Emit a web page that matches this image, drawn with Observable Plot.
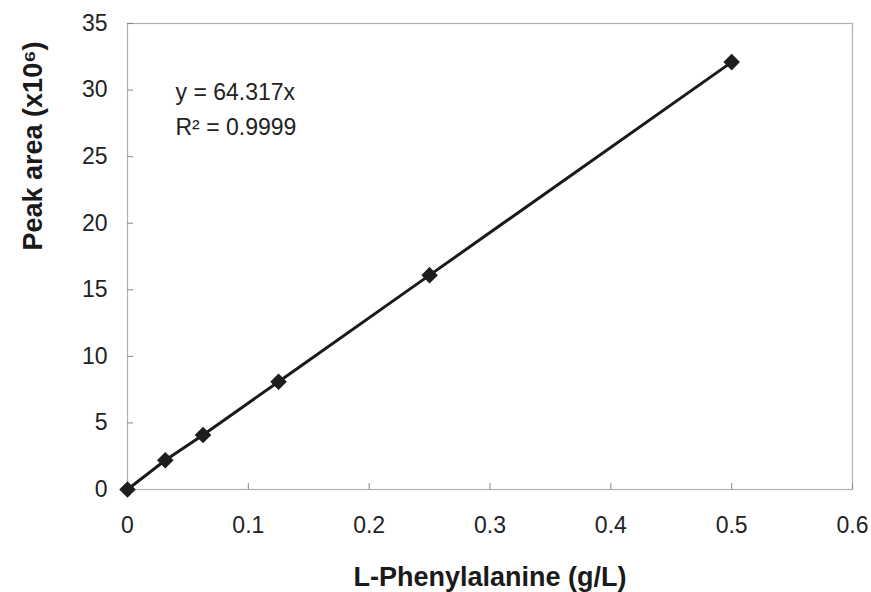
<!DOCTYPE html>
<html>
<head>
<meta charset="utf-8">
<script src="https://cdn.jsdelivr.net/npm/d3@7"></script>
<script src="https://cdn.jsdelivr.net/npm/@observablehq/plot@0.6"></script>
<style>
  html, body { margin: 0; padding: 0; background: #fff; }
  #chart svg { display: block; }
</style>
</head>
<body>
<div id="chart"></div>
<script>
// Data
const concentration = [0, 0.03125, 0.0625, 0.125, 0.25, 0.5];   // g/L
const peakArea = [0, 2.2, 4.1, 8.1, 16.1, 32.1];                 // x10^6
const xTicks = [0, 0.1, 0.2, 0.3, 0.4, 0.5, 0.6];
const yTicks = [0, 5, 10, 15, 20, 25, 30, 35];
const equationText = "y = 64.317x";
const r2Text = "R² = 0.9999";
const xTitle = "L-Phenylalanine (g/L)";
const yTitle = "Peak area (x10⁶)";

const data = concentration.map((c, i) => ({c, a: peakArea[i]}));

const chart = Plot.plot({
  width: 871,
  height: 592,
  marginLeft: 127,
  marginRight: 19,
  marginTop: 23,
  marginBottom: 103,
  style: {fontFamily: "'Liberation Sans', Arial, sans-serif", fontSize: "23px", color: "#222", background: "#fff"},
  x: {domain: [0, 0.6]},
  y: {domain: [0, 35]},
  marks: [
    Plot.frame({stroke: "#b0b0b0", strokeWidth: 1.2}),
    Plot.ruleY(yTicks, {x1: 0, x2: 0.005, stroke: "#888"}),
    Plot.ruleX(xTicks, {y1: 0, y2: 0.45, stroke: "#888"}),
    Plot.axisX({ticks: xTicks, tickSize: 0, tickPadding: 27, label: null, tickFormat: d => String(d), fontSize: 23}),
    Plot.axisY({ticks: yTicks, tickSize: 0, tickPadding: 20, label: null, tickFormat: d => String(d), fontSize: 23}),
    Plot.line(data, {x: "c", y: "a", stroke: "#1a1a1a", strokeWidth: 3}),
    Plot.dot(data, {x: "c", y: "a", symbol: "diamond2", fill: "#1e1e1e", stroke: "#1e1e1e", r: 6.5}),
    Plot.text([equationText], {frameAnchor: "top-left", dx: 48, dy: 69, text: d => d, textAnchor: "start", lineAnchor: "middle", fontSize: 23, fill: "#222"}),
    Plot.text([r2Text], {frameAnchor: "top-left", dx: 48, dy: 104, text: d => d, textAnchor: "start", lineAnchor: "middle", fontSize: 23, fill: "#222"}),
    Plot.text([xTitle], {frameAnchor: "bottom", dy: 88, text: d => d, fontSize: 27, fontWeight: "bold", fill: "#1a1a1a", lineAnchor: "middle"}),
    Plot.text([yTitle], {frameAnchor: "left", dx: -94, dy: -6, rotate: -90, text: d => d, fontSize: 27, fontWeight: "bold", fill: "#1a1a1a", lineAnchor: "middle"})
  ]
});
chart.querySelectorAll("text").forEach(t => {
  if (t.getAttribute("font-size") === "27") t.style.letterSpacing = "1px";
});
document.getElementById("chart").appendChild(chart);
</script>
</body>
</html>
